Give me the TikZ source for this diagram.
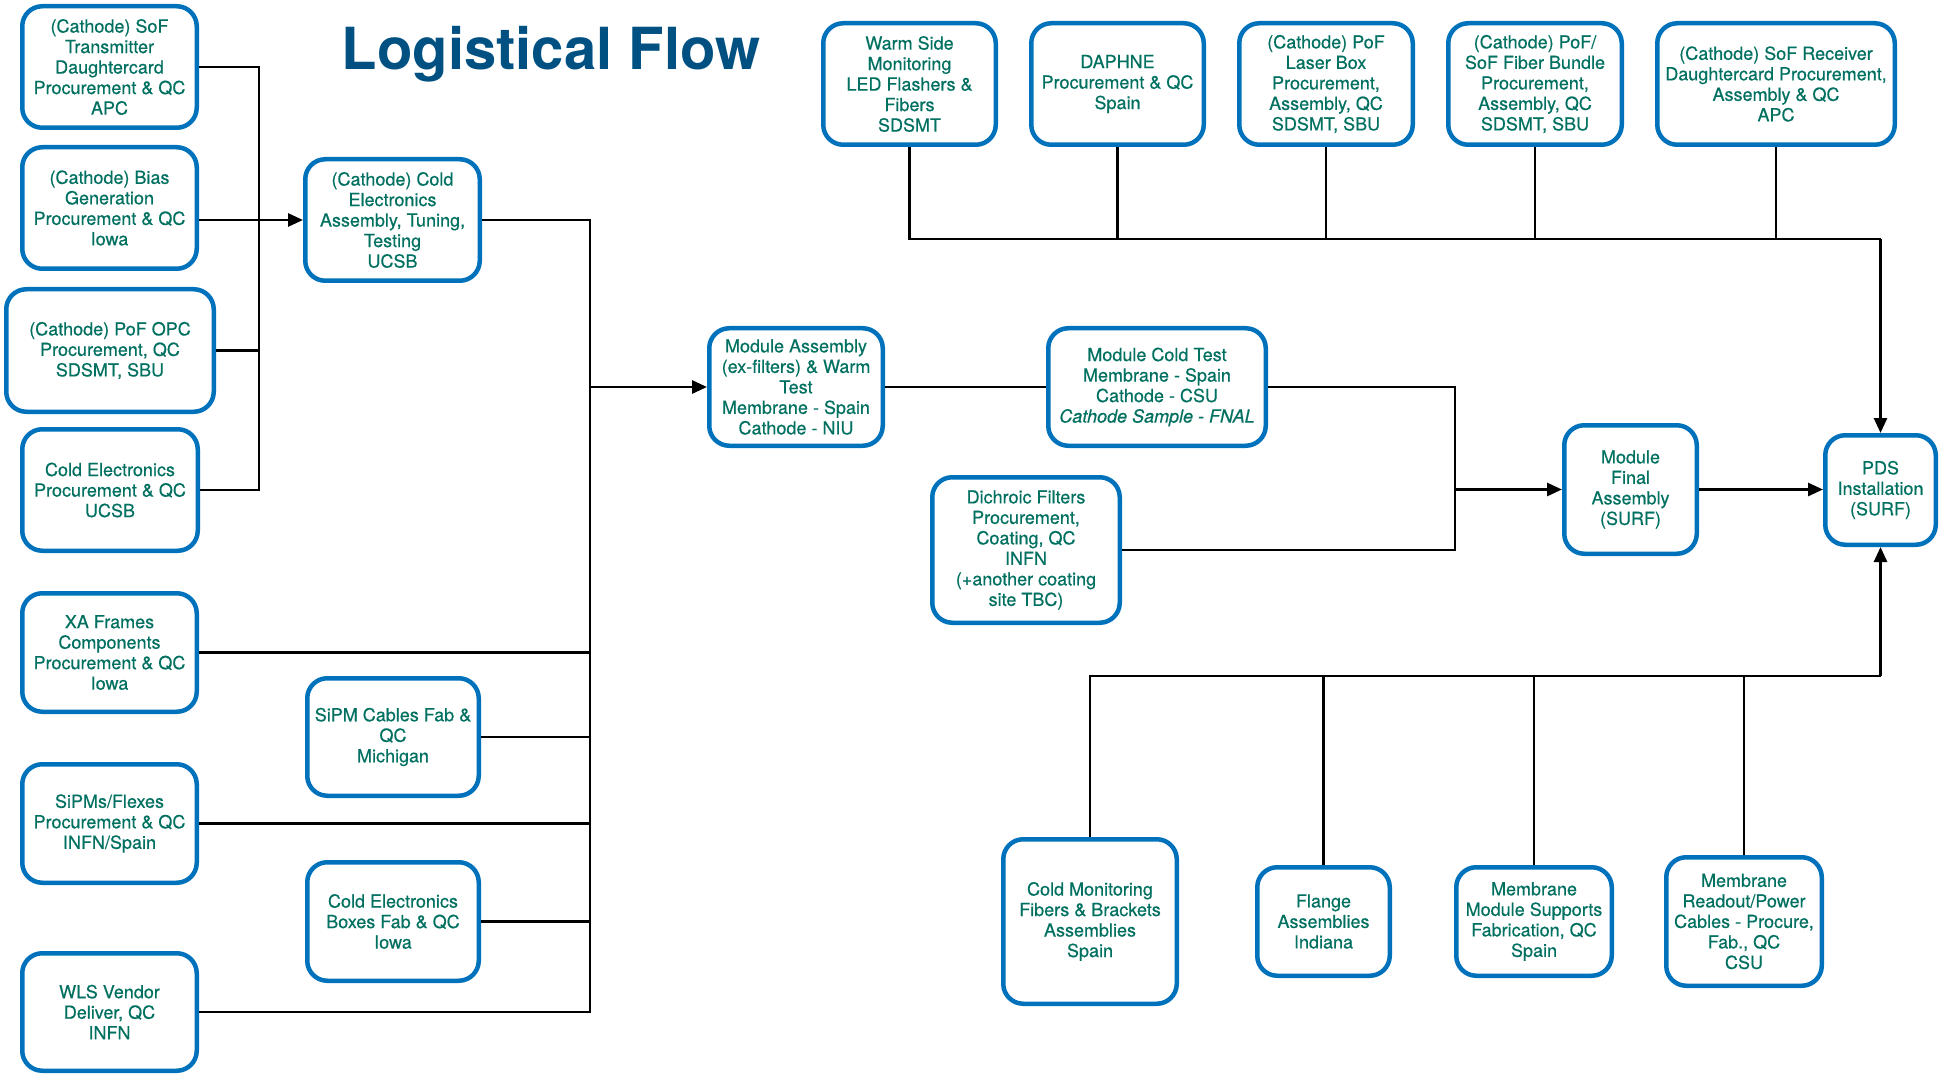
\documentclass[tikz,border=0pt]{standalone}
\usepackage{fontspec}
\setmainfont{TeX Gyre Heros}
\newfontfamily\boxfont[FakeBold=0.4]{TeX Gyre Heros}
\usetikzlibrary{arrows.meta}

\definecolor{boxblue}{RGB}{0,114,187}
\definecolor{boxtext}{RGB}{0,112,96}
\definecolor{titleblue}{RGB}{0,80,130}

% box from its outer corners: name, x1, y1, x2, y2, text (units: px)
\newcommand\bx[6]{%
  \pgfmathsetmacro\bw{(#4-#2-4.5)*0.5}%
  \pgfmathsetmacro\bh{(#5-#3-4.5)*0.5}%
  \node[box, minimum width=\bw pt, minimum height=\bh pt] (#1)
    at ({(#2+#4)/2},{(#3+#5)/2}) {#6};%
}

\begin{document}
\begin{tikzpicture}[x=0.5pt, y=-0.5pt,
  box/.style={draw=boxblue, line width=2.25pt, rounded corners=10pt,
    fill=white, inner sep=0pt, align=center, text=boxtext,
    font=\boxfont\fontsize{9}{10.25}\selectfont},
  ln/.style={line width=1.4pt, draw=black},
  arr/.style={ln, -{Triangle[length=7.5pt,width=6.5pt]}},
  heading/.style={text=titleblue, font=\fontsize{29}{34}\selectfont\bfseries}]

\useasboundingbox (0,0) rectangle (1944,1075);

\node[heading] (title) at (551,54) {Logistical Flow};

% left-hand suppliers
\bx{sofT}{20}{4}{199}{130}{(Cathode) SoF\\Transmitter\\Daughtercard\\Procurement \& QC\\APC}
\bx{bias}{20}{145}{199}{271}{(Cathode) Bias\\Generation\\Procurement \& QC\\Iowa}
\bx{opc}{4}{287}{216}{414}{(Cathode) PoF OPC\\Procurement, QC\\SDSMT, SBU}
\bx{ceP}{20}{427}{200}{553}{Cold Electronics\\Procurement \& QC\\UCSB}
\bx{xa}{20}{591}{199}{714}{XA Frames\\Components\\Procurement \& QC\\Iowa}
\bx{sipm}{20}{762}{199}{885}{SiPMs/Flexes\\Procurement \& QC\\INFN/Spain}
\bx{wls}{20}{951}{199}{1073}{WLS Vendor\\Deliver, QC\\INFN}

% second column
\bx{cce}{303}{157}{482}{283}{(Cathode) Cold\\Electronics\\Assembly, Tuning,\\Testing\\UCSB}
\bx{cab}{305}{676}{481}{798}{SiPM Cables Fab \&\\QC\\Michigan}
\bx{ceb}{305}{860}{481}{983}{Cold Electronics\\Boxes Fab \& QC\\Iowa}

% module chain
\bx{ma}{707}{326}{885}{448}{Module Assembly\\(ex-filters) \& Warm\\Test\\Membrane - Spain\\Cathode - NIU}
\bx{mct}{1046}{326}{1268}{448}{Module Cold Test\\Membrane - Spain\\Cathode - CSU\\\textit{Cathode Sample - FNAL}}
\bx{dich}{930}{475}{1122}{625}{Dichroic Filters\\Procurement,\\Coating, QC\\INFN\\(+another coating\\site TBC)}
\bx{mfa}{1562}{423}{1699}{556}{Module\\Final\\Assembly\\(SURF)}
\bx{pds}{1823}{433}{1938}{547}{PDS\\Installation\\(SURF)}

% top row
\bx{warm}{821}{21}{998}{147}{Warm Side\\Monitoring\\LED Flashers \&\\Fibers\\SDSMT}
\bx{daph}{1029}{21}{1206}{147}{DAPHNE\\Procurement \& QC\\Spain}
\bx{laser}{1237}{21}{1415}{147}{(Cathode) PoF\\Laser Box\\Procurement,\\Assembly, QC\\SDSMT, SBU}
\bx{bund}{1446}{21}{1624}{147}{(Cathode) PoF/\\SoF Fiber Bundle\\Procurement,\\Assembly, QC\\SDSMT, SBU}
\bx{sofR}{1655}{21}{1897}{147}{(Cathode) SoF Receiver\\Daughtercard Procurement,\\Assembly \& QC\\APC}

% bottom row
\bx{cmon}{1001}{837}{1179}{1006}{Cold Monitoring\\Fibers \& Brackets\\Assemblies\\Spain}
\bx{flange}{1255}{865}{1392}{978}{Flange\\Assemblies\\Indiana}
\bx{msup}{1454}{865}{1614}{978}{Membrane\\Module Supports\\Fabrication, QC\\Spain}
\bx{mro}{1664}{855}{1824}{988}{Membrane\\Readout/Power\\Cables - Procure,\\Fab., QC\\CSU}

% bus positions
\coordinate (lbus) at (259,0);
\coordinate (mbus) at (590,0);
\coordinate (jx) at (1455,0);
\coordinate (tbus) at (0,239);
\coordinate (bbus) at (0,676);

% left collector into cold electronics assembly
\draw[ln] (sofT.east) -- (sofT.east -| lbus) -- (ceP.east -| lbus) -- (ceP.east);
\draw[ln] (opc.east) -- (opc.east -| lbus);
\draw[arr] (bias.east |- cce.west) -- (cce.west);

% main collector into module assembly
\draw[ln] (cce.east) -- (cce.east -| mbus) -- (wls.east -| mbus) -- (wls.east);
\draw[ln] (xa.east) -- (xa.east -| mbus);
\draw[ln] (cab.east) -- (cab.east -| mbus);
\draw[ln] (sipm.east) -- (sipm.east -| mbus);
\draw[ln] (ceb.east) -- (ceb.east -| mbus);
\draw[arr] (ma.west -| mbus) -- (ma.west);

% module chain
\draw[ln] (ma.east) -- (mct.west);
\draw[ln] (mct.east) -- (mct.east -| jx) -- (dich.east -| jx) -- (dich.east);
\draw[arr] (mfa.west -| jx) -- (mfa.west);
\draw[arr] (mfa.east) -- (mfa.east -| pds.west);

% top feeders
\draw[ln] (warm.south) -- (warm.south |- tbus) -- (tbus -| pds.north);
\draw[arr] (tbus -| pds.north) -- (pds.north);
\draw[ln] (daph.south) -- (daph.south |- tbus);
\draw[ln] (laser.south) -- (laser.south |- tbus);
\draw[ln] (bund.south) -- (bund.south |- tbus);
\draw[ln] (sofR.south) -- (sofR.south |- tbus);

% bottom feeders
\draw[ln] (cmon.north) -- (cmon.north |- bbus) -- (bbus -| pds.south);
\draw[arr] (bbus -| pds.south) -- (pds.south);
\draw[ln] (flange.north) -- (flange.north |- bbus);
\draw[ln] (msup.north) -- (msup.north |- bbus);
\draw[ln] (mro.north) -- (mro.north |- bbus);

\end{tikzpicture}
\end{document}
